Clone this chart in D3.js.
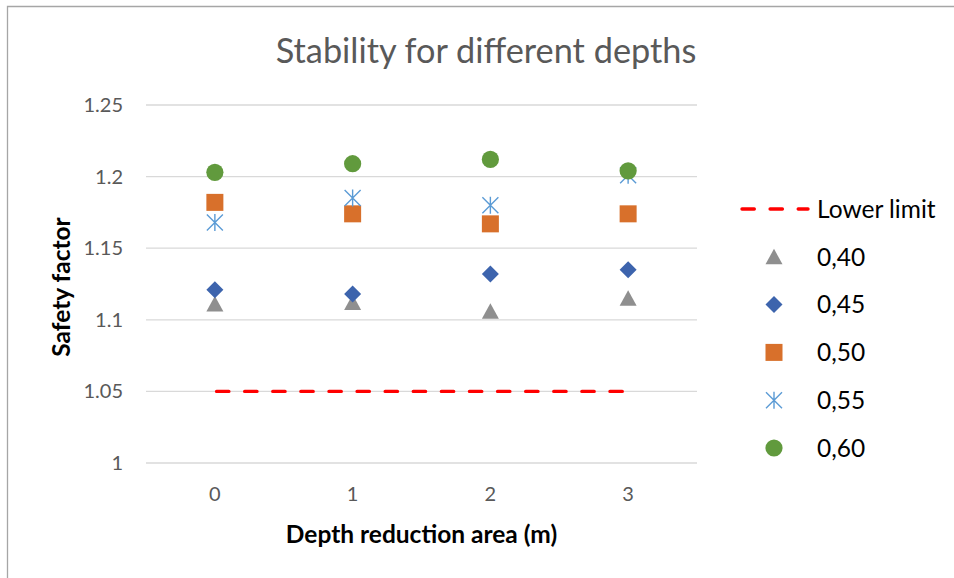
<!DOCTYPE html>
<html>
<head>
<meta charset="utf-8">
<script src="https://cdn.jsdelivr.net/npm/d3@7"></script>
<style>
  html, body { margin: 0; padding: 0; background: #fff; }
  svg { display: block; }
  text { font-family: Lato, "Open Sans", "Noto Sans", sans-serif; }
</style>
</head>
<body>
<svg id="chart" width="954" height="578"></svg>
<script>
// Depth reduction area (m)
const depths = ["0", "1", "2", "3"];
// Safety factor per series
const series = ["0,40", "0,45", "0,50", "0,55", "0,60"];
const sf040 = [1.111, 1.112, 1.106, 1.115];
const sf045 = [1.121, 1.118, 1.132, 1.135];
const sf050 = [1.182, 1.174, 1.167, 1.174];
const sf055 = [1.168, 1.185, 1.180, 1.201];
const sf060 = [1.203, 1.209, 1.212, 1.204];
const lowerLimit = [1.05, 1.05, 1.05, 1.05];
const yTicks = [1, 1.05, 1.1, 1.15, 1.2, 1.25];

const svg = d3.select("#chart");
const m = { left: 146, right: 697, top: 105, bottom: 463 };

// outer frame
svg.append("path")
  .attr("d", "M7.5,578 V6.5 H954")
  .attr("fill", "none").attr("stroke", "#a6a6a6").attr("stroke-width", 1.3);

const x = d3.scaleBand().domain(depths).range([m.left, m.right]);
const y = d3.scaleLinear().domain([1, 1.25]).range([m.bottom, m.top]);

// gridlines
svg.append("g").selectAll("line").data(yTicks).join("line")
  .attr("x1", m.left).attr("x2", m.right)
  .attr("y1", d => y(d)).attr("y2", d => y(d))
  .attr("stroke", "#d9d9d9").attr("stroke-width", 1.3);

// y axis labels
const yAxis = d3.axisLeft(y).tickValues(yTicks).tickSize(0).tickPadding(0)
  .tickFormat(d => String(+d.toFixed(2)));
const gy = svg.append("g").attr("transform", `translate(${m.left - 23},0)`).call(yAxis);
gy.select(".domain").remove();
gy.selectAll("text").attr("font-size", 20).attr("fill", "#595959")
  .style("font-family", "Lato, 'Open Sans', sans-serif");

// x axis labels
const xAxis = d3.axisBottom(x).tickSize(0).tickPadding(0);
const gx = svg.append("g").attr("transform", `translate(0,${m.bottom + 24})`).call(xAxis);
gx.select(".domain").remove();
gx.selectAll("text").attr("font-size", 20).attr("fill", "#595959")
  .style("font-family", "Lato, 'Open Sans', sans-serif");

// title
svg.append("text").attr("x", 486).attr("y", 63).attr("text-anchor", "middle")
  .attr("font-size", 34.3).attr("fill", "#595959").text("Stability for different depths");

// axis titles
svg.append("text").attr("x", 421.5).attr("y", 543).attr("text-anchor", "middle")
  .attr("font-size", 24.5).attr("font-weight", "bold").attr("fill", "#000")
  .text("Depth reduction area (m)");
svg.append("text").attr("transform", "translate(70,287) rotate(-90)")
  .attr("text-anchor", "middle")
  .attr("font-size", 24.5).attr("font-weight", "bold").attr("fill", "#000")
  .text("Safety factor");

const cx = d => x(d) + x.bandwidth() / 2;

// lower limit
const dash = "12.3,15.8";
const limitLine = d3.line().x((d, i) => cx(depths[i])).y(d => y(d));
svg.append("path").datum(lowerLimit).attr("d", limitLine)
  .attr("fill", "none").attr("stroke", "#ff0000").attr("stroke-width", 3.4)
  .attr("stroke-dasharray", dash).attr("stroke-dashoffset", -1.7)
  .attr("stroke-linecap", "round");

// marker drawing
const markerDefs = [
  { name: series[0], values: sf040, color: "#8f8f8f", shape: "triangle" },
  { name: series[1], values: sf045, color: "#3d64ad", shape: "diamond" },
  { name: series[2], values: sf050, color: "#d8702b", shape: "square" },
  { name: series[3], values: sf055, color: "#5b9bd5", shape: "star" },
  { name: series[4], values: sf060, color: "#619a3d", shape: "circle" }
];

function drawMarker(g, shape, color) {
  if (shape === "triangle") {
    g.append("path").attr("d", "M0,-8 L8.5,7.5 L-8.5,7.5 Z").attr("fill", color);
  } else if (shape === "diamond") {
    g.append("path").attr("d", "M0,-8.5 L8.5,0 L0,8.5 L-8.5,0 Z").attr("fill", color);
  } else if (shape === "square") {
    g.append("rect").attr("x", -8.5).attr("y", -8.5).attr("width", 17).attr("height", 17)
      .attr("fill", color);
  } else if (shape === "star") {
    g.append("path")
      .attr("d", "M-8,-8 L8,8 M-8,8 L8,-8 M0,-8.5 V8.5")
      .attr("stroke", color).attr("stroke-width", 1.4).attr("fill", "none");
  } else if (shape === "circle") {
    g.append("circle").attr("r", 8.6).attr("fill", color);
  }
}

markerDefs.forEach(s => {
  const g = svg.append("g");
  s.values.forEach((v, i) => {
    const mg = g.append("g").attr("transform", `translate(${cx(depths[i])},${y(v)})`);
    drawMarker(mg, s.shape, s.color);
  });
});

// legend
const legX = 774, legTextX = 817, legY0 = 209, legStep = 47.8;
svg.append("line").attr("x1", 742).attr("x2", 808).attr("y1", legY0).attr("y2", legY0)
  .attr("stroke", "#ff0000").attr("stroke-width", 3.4)
  .attr("stroke-dasharray", dash).attr("stroke-linecap", "round");
svg.append("text").attr("x", legTextX).attr("y", legY0).attr("dy", "0.36em")
  .attr("font-size", 24.5).attr("fill", "#000").text("Lower limit");
markerDefs.forEach((s, i) => {
  const ly = legY0 + legStep * (i + 1);
  const mg = svg.append("g").attr("transform", `translate(${legX},${ly})`);
  drawMarker(mg, s.shape, s.color);
  svg.append("text").attr("x", legTextX).attr("y", ly).attr("dy", "0.36em")
    .attr("font-size", 24.5).attr("fill", "#000").text(s.name);
});
</script>
</body>
</html>
